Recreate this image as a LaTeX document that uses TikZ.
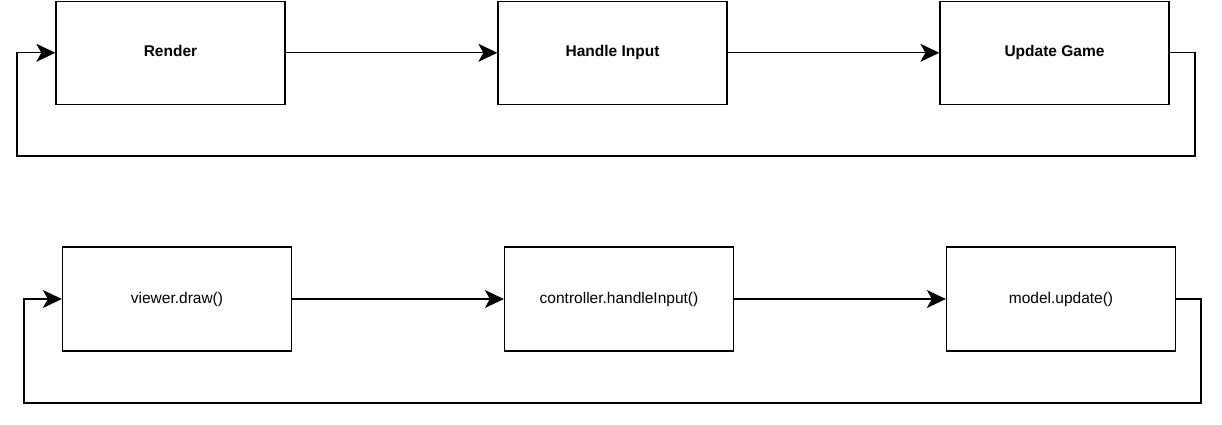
\documentclass[tikz,border=0pt]{standalone}
\usepackage{fontspec}
\setmainfont{Liberation Sans}
\usetikzlibrary{arrows.meta}
\begin{document}
\begin{tikzpicture}[x=1pt,y=1pt,
  box/.style={draw=black, line width=1.3pt, fill=white, rectangle, inner sep=0pt,
    minimum width=229pt, minimum height=103pt, text height=11.5pt, text depth=3.5pt,
    font=\fontsize{15.5}{18}\selectfont},
  arr/.style={draw=black, line width=1.3pt, -{Stealth[length=19pt,width=18pt,inset=5pt]}}]
\useasboundingbox (0,0) rectangle (1222,424);
% top row
\node[box, font=\fontsize{15.5}{18}\selectfont\bfseries] (ren) at (170.5,371.2) {Render};
\node[box, font=\fontsize{15.5}{18}\selectfont\bfseries] (inp) at (612.5,371.2) {Handle Input};
\node[box, font=\fontsize{15.5}{18}\selectfont\bfseries] (upd) at (1054.5,371.2) {Update Game};
\draw[arr] (ren) -- (inp);
\draw[arr] (inp) -- (upd);
\coordinate (tr) at (1195,268);
\coordinate (tl) at (17,268);
\draw[arr] (upd.east) -| (tr) -- (tl) |- (ren.west);
% bottom row
\node[box, minimum height=104pt] (view) at (177,125) {viewer.draw()};
\node[box, minimum height=104pt] (ctrl) at (619,125) {controller.handleInput()};
\node[box, minimum height=104pt] (mod) at (1061,125) {model.update()};
\draw[arr] (view) -- (ctrl);
\draw[arr] (ctrl) -- (mod);
\coordinate (br) at (1201,21);
\coordinate (bl) at (24,21);
\draw[arr] (mod.east) -| (br) -- (bl) |- (view.west);
\end{tikzpicture}
\end{document}
